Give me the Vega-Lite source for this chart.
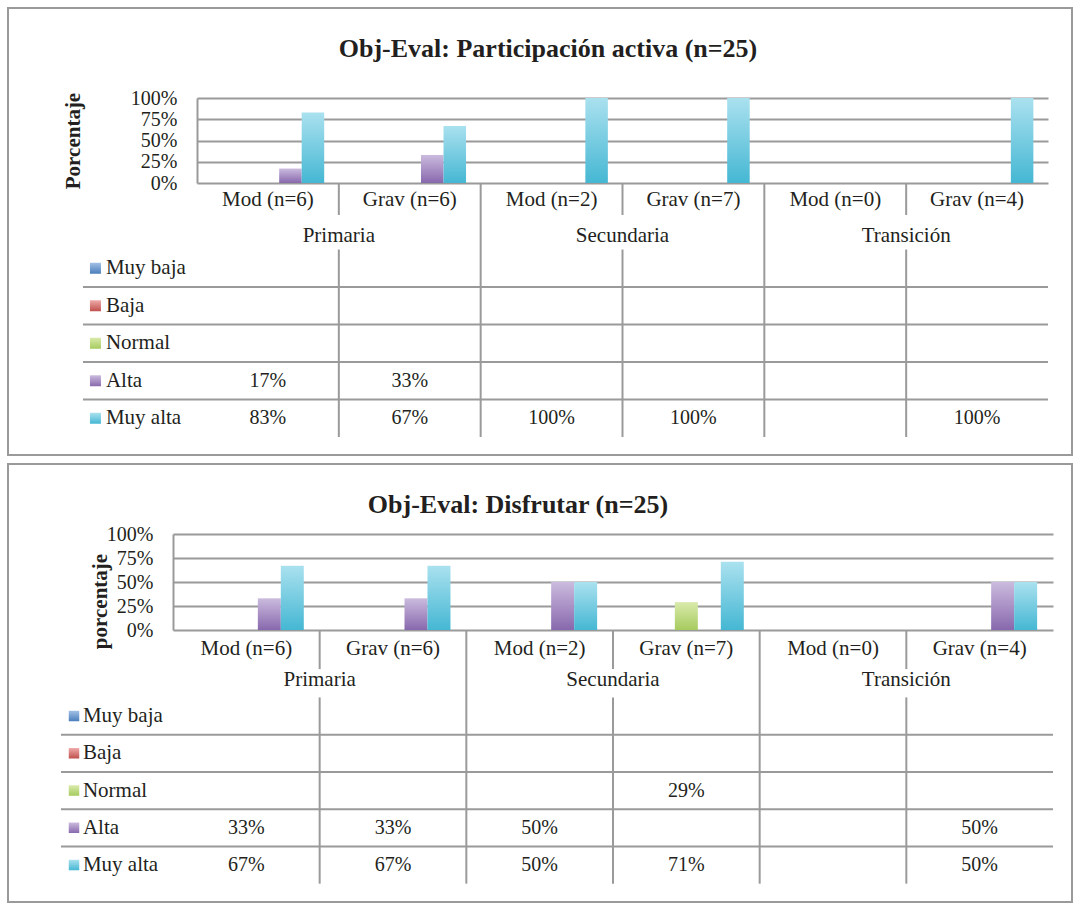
{
  "$schema": "https://vega.github.io/schema/vega-lite/v6.json",
  "padding": {"left": 7, "top": 7, "right": 0, "bottom": 0},
  "spacing": 7,
  "resolve": {"scale": {"xOffset": "independent"}},
  "config": {
    "view": {"stroke": "#9a9a9a", "strokeWidth": 2},
    "font": "Liberation Serif"
  },
  "datasets": {
    "cats": [
      {"cat": "Mod (n=6)", "group": "Primaria", "level": "Mod"},
      {"cat": "Grav (n=6)", "group": "Primaria", "level": "Grav"},
      {"cat": "Mod (n=2)", "group": "Secundaria", "level": "Mod"},
      {"cat": "Grav (n=7)", "group": "Secundaria", "level": "Grav"},
      {"cat": "Mod (n=0)", "group": "Transición", "level": "Mod"},
      {"cat": "Grav (n=4)", "group": "Transición", "level": "Grav"}
    ],
    "series": [
      {"series": "Muy baja"}, {"series": "Baja"}, {"series": "Normal"}, {"series": "Alta"}, {"series": "Muy alta"}
    ],
    "bars1": [
      {"cat": "Mod (n=6)", "series": "Alta", "value": 0.17},
      {"cat": "Mod (n=6)", "series": "Muy alta", "value": 0.83},
      {"cat": "Grav (n=6)", "series": "Alta", "value": 0.33},
      {"cat": "Grav (n=6)", "series": "Muy alta", "value": 0.67},
      {"cat": "Mod (n=2)", "series": "Muy alta", "value": 1},
      {"cat": "Grav (n=7)", "series": "Muy alta", "value": 1},
      {"cat": "Grav (n=4)", "series": "Muy alta", "value": 1}
    ],
    "bars2": [
      {"cat": "Mod (n=6)", "series": "Alta", "value": 0.33},
      {"cat": "Mod (n=6)", "series": "Muy alta", "value": 0.67},
      {"cat": "Grav (n=6)", "series": "Alta", "value": 0.33},
      {"cat": "Grav (n=6)", "series": "Muy alta", "value": 0.67},
      {"cat": "Mod (n=2)", "series": "Alta", "value": 0.5},
      {"cat": "Mod (n=2)", "series": "Muy alta", "value": 0.5},
      {"cat": "Grav (n=7)", "series": "Normal", "value": 0.29},
      {"cat": "Grav (n=7)", "series": "Muy alta", "value": 0.71},
      {"cat": "Grav (n=4)", "series": "Alta", "value": 0.5},
      {"cat": "Grav (n=4)", "series": "Muy alta", "value": 0.5}
    ]
  },
  "vconcat": [
    {
      "width": 1064,
      "height": 447,
      "title": {"text": "Obj-Eval: Participación activa (n=25)", "font": "Liberation Serif", "fontSize": 26, "fontWeight": "bold", "color": "#231f20", "anchor": "middle", "baseline": "middle", "offset": -67, "dx": 8},
      "resolve": {"scale": {"y": "independent"}, "axis": {"y": "independent"}},
      "layer": [
        {
          "data": {"name": "bars1"},
          "mark": {"type": "bar"},
          "encoding": {
            "x": {"field": "cat", "type": "nominal", "axis": null, "scale": {"type": "band", "domain": ["Mod (n=6)", "Grav (n=6)", "Mod (n=2)", "Grav (n=7)", "Mod (n=0)", "Grav (n=4)"], "range": [189, 1040], "paddingInner": 0, "paddingOuter": 0}},
            "xOffset": {"field": "series", "type": "nominal", "scale": {"type": "band", "domain": ["Muy baja", "Baja", "Normal", "Alta", "Muy alta"], "paddingInner": 0, "paddingOuter": 0.65}},
            "y": {"field": "value", "type": "quantitative", "scale": {"domain": [0, 1], "range": [175, 90], "nice": false, "zero": true},
              "axis": {"values": [0, 0.25, 0.5, 0.75, 1], "format": ".0%", "offset": -189, "grid": true, "gridColor": "#9a9a9a", "gridWidth": 2, "domainColor": "#9a9a9a", "domainWidth": 2, "ticks": false, "labelOverlap": false, "labelFont": "Liberation Serif", "labelFontSize": 20, "labelColor": "#231f20", "labelPadding": 20, "title": "Porcentaje", "titleFont": "Liberation Serif", "titleFontSize": 21, "titleFontWeight": "bold", "titleColor": "#231f20", "titleX": -118, "titleBaseline": "alphabetic"}},
            "color": {"condition": [
              {"test": "datum.series === 'Muy baja'", "value": {"gradient": "linear", "x1": 0, "y1": 0, "x2": 0, "y2": 1, "stops": [{"offset": 0, "color": "#a3c0e6"}, {"offset": 1, "color": "#4a7ebb"}]}},
              {"test": "datum.series === 'Baja'", "value": {"gradient": "linear", "x1": 0, "y1": 0, "x2": 0, "y2": 1, "stops": [{"offset": 0, "color": "#eeaaa8"}, {"offset": 1, "color": "#c0504d"}]}},
              {"test": "datum.series === 'Normal'", "value": {"gradient": "linear", "x1": 0, "y1": 0, "x2": 0, "y2": 1, "stops": [{"offset": 0, "color": "#d9eaab"}, {"offset": 1, "color": "#a6cb5e"}]}},
              {"test": "datum.series === 'Alta'", "value": {"gradient": "linear", "x1": 0, "y1": 0, "x2": 0, "y2": 1, "stops": [{"offset": 0, "color": "#cbbbde"}, {"offset": 1, "color": "#8868ad"}]}}
            ], "value": {"gradient": "linear", "x1": 0, "y1": 0, "x2": 0, "y2": 1, "stops": [{"offset": 0, "color": "#aae1ef"}, {"offset": 1, "color": "#45b7d3"}]}}
          }
        },
        {
          "data": {"name": "cats"},
          "transform": [{"filter": "datum.level === 'Grav'"}],
          "mark": {"type": "rule", "color": "#9a9a9a", "strokeWidth": 2},
          "encoding": {
            "x": {"field": "cat", "type": "nominal", "bandPosition": 0, "axis": null, "scale": {"type": "band", "domain": ["Mod (n=6)", "Grav (n=6)", "Mod (n=2)", "Grav (n=7)", "Mod (n=0)", "Grav (n=4)"], "range": [189, 1040], "paddingInner": 0, "paddingOuter": 0}},
            "y": {"datum": "sub", "type": "ordinal", "bandPosition": 0.227, "axis": null, "scale": {"type": "band", "domain": ["sub", "grp", "Muy baja", "Baja", "Normal", "Alta", "Muy alta"], "range": [166.5, 429], "paddingInner": 0, "paddingOuter": 0}},
            "y2": {"datum": "grp", "bandPosition": 0.08}
          }
        },
        {
          "data": {"name": "cats"},
          "transform": [{"filter": "datum.level === 'Grav'"}],
          "mark": {"type": "rule", "color": "#9a9a9a", "strokeWidth": 2},
          "encoding": {
            "x": {"field": "cat", "type": "nominal", "bandPosition": 0, "axis": null, "scale": {"type": "band", "domain": ["Mod (n=6)", "Grav (n=6)", "Mod (n=2)", "Grav (n=7)", "Mod (n=0)", "Grav (n=4)"], "range": [189, 1040], "paddingInner": 0, "paddingOuter": 0}},
            "y": {"datum": "Muy baja", "type": "ordinal", "bandPosition": 0, "axis": null, "scale": {"type": "band", "domain": ["sub", "grp", "Muy baja", "Baja", "Normal", "Alta", "Muy alta"], "range": [166.5, 429], "paddingInner": 0, "paddingOuter": 0}},
            "y2": {"datum": "Muy alta", "bandPosition": 1}
          }
        },
        {
          "data": {"name": "cats"},
          "transform": [{"filter": "datum.level === 'Mod' && datum.group !== 'Primaria'"}],
          "mark": {"type": "rule", "color": "#9a9a9a", "strokeWidth": 2},
          "encoding": {
            "x": {"field": "cat", "type": "nominal", "bandPosition": 0, "axis": null, "scale": {"type": "band", "domain": ["Mod (n=6)", "Grav (n=6)", "Mod (n=2)", "Grav (n=7)", "Mod (n=0)", "Grav (n=4)"], "range": [189, 1040], "paddingInner": 0, "paddingOuter": 0}},
            "y": {"datum": "sub", "type": "ordinal", "bandPosition": 0.227, "axis": null, "scale": {"type": "band", "domain": ["sub", "grp", "Muy baja", "Baja", "Normal", "Alta", "Muy alta"], "range": [166.5, 429], "paddingInner": 0, "paddingOuter": 0}},
            "y2": {"datum": "Muy alta", "bandPosition": 1}
          }
        },
        {
          "data": {"name": "series"},
          "transform": [{"filter": "datum.series !== 'Muy baja'"}],
          "mark": {"type": "rule", "color": "#9a9a9a", "strokeWidth": 2},
          "encoding": {
            "x": {"datum": "Mod (n=6)", "type": "nominal", "bandPosition": -0.804, "axis": null, "scale": {"type": "band", "domain": ["Mod (n=6)", "Grav (n=6)", "Mod (n=2)", "Grav (n=7)", "Mod (n=0)", "Grav (n=4)"], "range": [189, 1040], "paddingInner": 0, "paddingOuter": 0}},
            "x2": {"datum": "Grav (n=4)", "bandPosition": 1},
            "y": {"field": "series", "type": "ordinal", "bandPosition": 0, "axis": null, "scale": {"type": "band", "domain": ["sub", "grp", "Muy baja", "Baja", "Normal", "Alta", "Muy alta"], "range": [166.5, 429], "paddingInner": 0, "paddingOuter": 0}}
          }
        },
        {
          "data": {"name": "series"},
          "mark": {"type": "point", "shape": "square", "filled": true, "size": 121, "opacity": 1},
          "encoding": {
            "x": {"datum": "Mod (n=6)", "type": "nominal", "bandPosition": -0.716, "axis": null, "scale": {"type": "band", "domain": ["Mod (n=6)", "Grav (n=6)", "Mod (n=2)", "Grav (n=7)", "Mod (n=0)", "Grav (n=4)"], "range": [189, 1040], "paddingInner": 0, "paddingOuter": 0}},
            "y": {"field": "series", "type": "ordinal", "axis": null, "scale": {"type": "band", "domain": ["sub", "grp", "Muy baja", "Baja", "Normal", "Alta", "Muy alta"], "range": [166.5, 429], "paddingInner": 0, "paddingOuter": 0}},
            "color": {"condition": [
              {"test": "datum.series === 'Muy baja'", "value": {"gradient": "linear", "x1": 0, "y1": 0, "x2": 0, "y2": 1, "stops": [{"offset": 0, "color": "#a3c0e6"}, {"offset": 1, "color": "#4a7ebb"}]}},
              {"test": "datum.series === 'Baja'", "value": {"gradient": "linear", "x1": 0, "y1": 0, "x2": 0, "y2": 1, "stops": [{"offset": 0, "color": "#eeaaa8"}, {"offset": 1, "color": "#c0504d"}]}},
              {"test": "datum.series === 'Normal'", "value": {"gradient": "linear", "x1": 0, "y1": 0, "x2": 0, "y2": 1, "stops": [{"offset": 0, "color": "#d9eaab"}, {"offset": 1, "color": "#a6cb5e"}]}},
              {"test": "datum.series === 'Alta'", "value": {"gradient": "linear", "x1": 0, "y1": 0, "x2": 0, "y2": 1, "stops": [{"offset": 0, "color": "#cbbbde"}, {"offset": 1, "color": "#8868ad"}]}}
            ], "value": {"gradient": "linear", "x1": 0, "y1": 0, "x2": 0, "y2": 1, "stops": [{"offset": 0, "color": "#aae1ef"}, {"offset": 1, "color": "#45b7d3"}]}}
          }
        },
        {
          "data": {"name": "series"},
          "mark": {"type": "text", "font": "Liberation Serif", "fontSize": 21, "color": "#231f20", "align": "left", "baseline": "middle"},
          "encoding": {
            "x": {"datum": "Mod (n=6)", "type": "nominal", "bandPosition": -0.642, "axis": null, "scale": {"type": "band", "domain": ["Mod (n=6)", "Grav (n=6)", "Mod (n=2)", "Grav (n=7)", "Mod (n=0)", "Grav (n=4)"], "range": [189, 1040], "paddingInner": 0, "paddingOuter": 0}},
            "y": {"field": "series", "type": "ordinal", "axis": null, "scale": {"type": "band", "domain": ["sub", "grp", "Muy baja", "Baja", "Normal", "Alta", "Muy alta"], "range": [166.5, 429], "paddingInner": 0, "paddingOuter": 0}},
            "text": {"field": "series"}
          }
        },
        {
          "data": {"name": "bars1"},
          "mark": {"type": "text", "font": "Liberation Serif", "fontSize": 20, "color": "#231f20", "align": "center", "baseline": "middle"},
          "encoding": {
            "x": {"field": "cat", "type": "nominal", "axis": null, "scale": {"type": "band", "domain": ["Mod (n=6)", "Grav (n=6)", "Mod (n=2)", "Grav (n=7)", "Mod (n=0)", "Grav (n=4)"], "range": [189, 1040], "paddingInner": 0, "paddingOuter": 0}},
            "y": {"field": "series", "type": "ordinal", "axis": null, "scale": {"type": "band", "domain": ["sub", "grp", "Muy baja", "Baja", "Normal", "Alta", "Muy alta"], "range": [166.5, 429], "paddingInner": 0, "paddingOuter": 0}},
            "text": {"field": "value", "type": "quantitative", "format": ".0%"}
          }
        },
        {
          "data": {"name": "cats"},
          "mark": {"type": "text", "font": "Liberation Serif", "fontSize": 21, "color": "#231f20", "align": "center", "baseline": "middle", "dy": 7},
          "encoding": {
            "x": {"field": "cat", "type": "nominal", "axis": null, "scale": {"type": "band", "domain": ["Mod (n=6)", "Grav (n=6)", "Mod (n=2)", "Grav (n=7)", "Mod (n=0)", "Grav (n=4)"], "range": [189, 1040], "paddingInner": 0, "paddingOuter": 0}},
            "y": {"datum": "sub", "type": "ordinal", "axis": null, "scale": {"type": "band", "domain": ["sub", "grp", "Muy baja", "Baja", "Normal", "Alta", "Muy alta"], "range": [166.5, 429], "paddingInner": 0, "paddingOuter": 0}},
            "text": {"field": "cat"}
          }
        },
        {
          "data": {"name": "cats"},
          "transform": [{"filter": "datum.level === 'Grav'"}],
          "mark": {"type": "text", "font": "Liberation Serif", "fontSize": 21, "color": "#231f20", "align": "center", "baseline": "middle", "dy": 5},
          "encoding": {
            "x": {"field": "cat", "type": "nominal", "bandPosition": 0, "axis": null, "scale": {"type": "band", "domain": ["Mod (n=6)", "Grav (n=6)", "Mod (n=2)", "Grav (n=7)", "Mod (n=0)", "Grav (n=4)"], "range": [189, 1040], "paddingInner": 0, "paddingOuter": 0}},
            "y": {"datum": "grp", "type": "ordinal", "axis": null, "scale": {"type": "band", "domain": ["sub", "grp", "Muy baja", "Baja", "Normal", "Alta", "Muy alta"], "range": [166.5, 429], "paddingInner": 0, "paddingOuter": 0}},
            "text": {"field": "group"}
          }
        }
      ]
    },
    {
      "width": 1064,
      "height": 438,
      "title": {"text": "Obj-Eval: Disfrutar (n=25)", "font": "Liberation Serif", "fontSize": 26, "fontWeight": "bold", "color": "#231f20", "anchor": "middle", "baseline": "middle", "offset": -67, "dx": -22},
      "resolve": {"scale": {"y": "independent"}, "axis": {"y": "independent"}},
      "layer": [
        {
          "data": {"name": "bars2"},
          "mark": {"type": "bar"},
          "encoding": {
            "x": {"field": "cat", "type": "nominal", "axis": null, "scale": {"type": "band", "domain": ["Mod (n=6)", "Grav (n=6)", "Mod (n=2)", "Grav (n=7)", "Mod (n=0)", "Grav (n=4)"], "range": [165, 1045], "paddingInner": 0, "paddingOuter": 0}},
            "xOffset": {"field": "series", "type": "nominal", "scale": {"type": "band", "domain": ["Muy baja", "Baja", "Normal", "Alta", "Muy alta"], "paddingInner": 0, "paddingOuter": 0.69}},
            "y": {"field": "value", "type": "quantitative", "scale": {"domain": [0, 1], "range": [166, 70], "nice": false, "zero": true},
              "axis": {"values": [0, 0.25, 0.5, 0.75, 1], "format": ".0%", "offset": -165, "grid": true, "gridColor": "#9a9a9a", "gridWidth": 2, "domainColor": "#9a9a9a", "domainWidth": 2, "ticks": false, "labelOverlap": false, "labelFont": "Liberation Serif", "labelFontSize": 20, "labelColor": "#231f20", "labelPadding": 20, "title": "porcentaje", "titleFont": "Liberation Serif", "titleFontSize": 21, "titleFontWeight": "bold", "titleColor": "#231f20", "titleX": -67, "titleY": 137, "titleBaseline": "alphabetic"}},
            "color": {"condition": [
              {"test": "datum.series === 'Muy baja'", "value": {"gradient": "linear", "x1": 0, "y1": 0, "x2": 0, "y2": 1, "stops": [{"offset": 0, "color": "#a3c0e6"}, {"offset": 1, "color": "#4a7ebb"}]}},
              {"test": "datum.series === 'Baja'", "value": {"gradient": "linear", "x1": 0, "y1": 0, "x2": 0, "y2": 1, "stops": [{"offset": 0, "color": "#eeaaa8"}, {"offset": 1, "color": "#c0504d"}]}},
              {"test": "datum.series === 'Normal'", "value": {"gradient": "linear", "x1": 0, "y1": 0, "x2": 0, "y2": 1, "stops": [{"offset": 0, "color": "#d9eaab"}, {"offset": 1, "color": "#a6cb5e"}]}},
              {"test": "datum.series === 'Alta'", "value": {"gradient": "linear", "x1": 0, "y1": 0, "x2": 0, "y2": 1, "stops": [{"offset": 0, "color": "#cbbbde"}, {"offset": 1, "color": "#8868ad"}]}}
            ], "value": {"gradient": "linear", "x1": 0, "y1": 0, "x2": 0, "y2": 1, "stops": [{"offset": 0, "color": "#aae1ef"}, {"offset": 1, "color": "#45b7d3"}]}}
          }
        },
        {
          "data": {"name": "cats"},
          "transform": [{"filter": "datum.level === 'Grav'"}],
          "mark": {"type": "rule", "color": "#9a9a9a", "strokeWidth": 2},
          "encoding": {
            "x": {"field": "cat", "type": "nominal", "bandPosition": 0, "axis": null, "scale": {"type": "band", "domain": ["Mod (n=6)", "Grav (n=6)", "Mod (n=2)", "Grav (n=7)", "Mod (n=0)", "Grav (n=4)"], "range": [165, 1045], "paddingInner": 0, "paddingOuter": 0}},
            "y": {"datum": "sub", "type": "ordinal", "bandPosition": 0.19, "axis": null, "scale": {"type": "band", "domain": ["sub", "grp", "Muy baja", "Baja", "Normal", "Alta", "Muy alta"], "range": [158.9, 419.65], "paddingInner": 0, "paddingOuter": 0}},
            "y2": {"datum": "grp", "bandPosition": 0.24}
          }
        },
        {
          "data": {"name": "cats"},
          "transform": [{"filter": "datum.level === 'Grav'"}],
          "mark": {"type": "rule", "color": "#9a9a9a", "strokeWidth": 2},
          "encoding": {
            "x": {"field": "cat", "type": "nominal", "bandPosition": 0, "axis": null, "scale": {"type": "band", "domain": ["Mod (n=6)", "Grav (n=6)", "Mod (n=2)", "Grav (n=7)", "Mod (n=0)", "Grav (n=4)"], "range": [165, 1045], "paddingInner": 0, "paddingOuter": 0}},
            "y": {"datum": "Muy baja", "type": "ordinal", "bandPosition": 0, "axis": null, "scale": {"type": "band", "domain": ["sub", "grp", "Muy baja", "Baja", "Normal", "Alta", "Muy alta"], "range": [158.9, 419.65], "paddingInner": 0, "paddingOuter": 0}},
            "y2": {"datum": "Muy alta", "bandPosition": 1}
          }
        },
        {
          "data": {"name": "cats"},
          "transform": [{"filter": "datum.level === 'Mod' && datum.group !== 'Primaria'"}],
          "mark": {"type": "rule", "color": "#9a9a9a", "strokeWidth": 2},
          "encoding": {
            "x": {"field": "cat", "type": "nominal", "bandPosition": 0, "axis": null, "scale": {"type": "band", "domain": ["Mod (n=6)", "Grav (n=6)", "Mod (n=2)", "Grav (n=7)", "Mod (n=0)", "Grav (n=4)"], "range": [165, 1045], "paddingInner": 0, "paddingOuter": 0}},
            "y": {"datum": "sub", "type": "ordinal", "bandPosition": 0.19, "axis": null, "scale": {"type": "band", "domain": ["sub", "grp", "Muy baja", "Baja", "Normal", "Alta", "Muy alta"], "range": [158.9, 419.65], "paddingInner": 0, "paddingOuter": 0}},
            "y2": {"datum": "Muy alta", "bandPosition": 1}
          }
        },
        {
          "data": {"name": "series"},
          "transform": [{"filter": "datum.series !== 'Muy baja'"}],
          "mark": {"type": "rule", "color": "#9a9a9a", "strokeWidth": 2},
          "encoding": {
            "x": {"datum": "Mod (n=6)", "type": "nominal", "bandPosition": -0.764, "axis": null, "scale": {"type": "band", "domain": ["Mod (n=6)", "Grav (n=6)", "Mod (n=2)", "Grav (n=7)", "Mod (n=0)", "Grav (n=4)"], "range": [165, 1045], "paddingInner": 0, "paddingOuter": 0}},
            "x2": {"datum": "Grav (n=4)", "bandPosition": 1},
            "y": {"field": "series", "type": "ordinal", "bandPosition": 0, "axis": null, "scale": {"type": "band", "domain": ["sub", "grp", "Muy baja", "Baja", "Normal", "Alta", "Muy alta"], "range": [158.9, 419.65], "paddingInner": 0, "paddingOuter": 0}}
          }
        },
        {
          "data": {"name": "series"},
          "mark": {"type": "point", "shape": "square", "filled": true, "size": 110, "opacity": 1},
          "encoding": {
            "x": {"datum": "Mod (n=6)", "type": "nominal", "bandPosition": -0.675, "axis": null, "scale": {"type": "band", "domain": ["Mod (n=6)", "Grav (n=6)", "Mod (n=2)", "Grav (n=7)", "Mod (n=0)", "Grav (n=4)"], "range": [165, 1045], "paddingInner": 0, "paddingOuter": 0}},
            "y": {"field": "series", "type": "ordinal", "axis": null, "scale": {"type": "band", "domain": ["sub", "grp", "Muy baja", "Baja", "Normal", "Alta", "Muy alta"], "range": [158.9, 419.65], "paddingInner": 0, "paddingOuter": 0}},
            "color": {"condition": [
              {"test": "datum.series === 'Muy baja'", "value": {"gradient": "linear", "x1": 0, "y1": 0, "x2": 0, "y2": 1, "stops": [{"offset": 0, "color": "#a3c0e6"}, {"offset": 1, "color": "#4a7ebb"}]}},
              {"test": "datum.series === 'Baja'", "value": {"gradient": "linear", "x1": 0, "y1": 0, "x2": 0, "y2": 1, "stops": [{"offset": 0, "color": "#eeaaa8"}, {"offset": 1, "color": "#c0504d"}]}},
              {"test": "datum.series === 'Normal'", "value": {"gradient": "linear", "x1": 0, "y1": 0, "x2": 0, "y2": 1, "stops": [{"offset": 0, "color": "#d9eaab"}, {"offset": 1, "color": "#a6cb5e"}]}},
              {"test": "datum.series === 'Alta'", "value": {"gradient": "linear", "x1": 0, "y1": 0, "x2": 0, "y2": 1, "stops": [{"offset": 0, "color": "#cbbbde"}, {"offset": 1, "color": "#8868ad"}]}}
            ], "value": {"gradient": "linear", "x1": 0, "y1": 0, "x2": 0, "y2": 1, "stops": [{"offset": 0, "color": "#aae1ef"}, {"offset": 1, "color": "#45b7d3"}]}}
          }
        },
        {
          "data": {"name": "series"},
          "mark": {"type": "text", "font": "Liberation Serif", "fontSize": 21, "color": "#231f20", "align": "left", "baseline": "middle"},
          "encoding": {
            "x": {"datum": "Mod (n=6)", "type": "nominal", "bandPosition": -0.614, "axis": null, "scale": {"type": "band", "domain": ["Mod (n=6)", "Grav (n=6)", "Mod (n=2)", "Grav (n=7)", "Mod (n=0)", "Grav (n=4)"], "range": [165, 1045], "paddingInner": 0, "paddingOuter": 0}},
            "y": {"field": "series", "type": "ordinal", "axis": null, "scale": {"type": "band", "domain": ["sub", "grp", "Muy baja", "Baja", "Normal", "Alta", "Muy alta"], "range": [158.9, 419.65], "paddingInner": 0, "paddingOuter": 0}},
            "text": {"field": "series"}
          }
        },
        {
          "data": {"name": "bars2"},
          "mark": {"type": "text", "font": "Liberation Serif", "fontSize": 20, "color": "#231f20", "align": "center", "baseline": "middle"},
          "encoding": {
            "x": {"field": "cat", "type": "nominal", "axis": null, "scale": {"type": "band", "domain": ["Mod (n=6)", "Grav (n=6)", "Mod (n=2)", "Grav (n=7)", "Mod (n=0)", "Grav (n=4)"], "range": [165, 1045], "paddingInner": 0, "paddingOuter": 0}},
            "y": {"field": "series", "type": "ordinal", "axis": null, "scale": {"type": "band", "domain": ["sub", "grp", "Muy baja", "Baja", "Normal", "Alta", "Muy alta"], "range": [158.9, 419.65], "paddingInner": 0, "paddingOuter": 0}},
            "text": {"field": "value", "type": "quantitative", "format": ".0%"}
          }
        },
        {
          "data": {"name": "cats"},
          "mark": {"type": "text", "font": "Liberation Serif", "fontSize": 21, "color": "#231f20", "align": "center", "baseline": "middle", "dy": 7},
          "encoding": {
            "x": {"field": "cat", "type": "nominal", "axis": null, "scale": {"type": "band", "domain": ["Mod (n=6)", "Grav (n=6)", "Mod (n=2)", "Grav (n=7)", "Mod (n=0)", "Grav (n=4)"], "range": [165, 1045], "paddingInner": 0, "paddingOuter": 0}},
            "y": {"datum": "sub", "type": "ordinal", "axis": null, "scale": {"type": "band", "domain": ["sub", "grp", "Muy baja", "Baja", "Normal", "Alta", "Muy alta"], "range": [158.9, 419.65], "paddingInner": 0, "paddingOuter": 0}},
            "text": {"field": "cat"}
          }
        },
        {
          "data": {"name": "cats"},
          "transform": [{"filter": "datum.level === 'Grav'"}],
          "mark": {"type": "text", "font": "Liberation Serif", "fontSize": 21, "color": "#231f20", "align": "center", "baseline": "middle", "dy": 1},
          "encoding": {
            "x": {"field": "cat", "type": "nominal", "bandPosition": 0, "axis": null, "scale": {"type": "band", "domain": ["Mod (n=6)", "Grav (n=6)", "Mod (n=2)", "Grav (n=7)", "Mod (n=0)", "Grav (n=4)"], "range": [165, 1045], "paddingInner": 0, "paddingOuter": 0}},
            "y": {"datum": "grp", "type": "ordinal", "axis": null, "scale": {"type": "band", "domain": ["sub", "grp", "Muy baja", "Baja", "Normal", "Alta", "Muy alta"], "range": [158.9, 419.65], "paddingInner": 0, "paddingOuter": 0}},
            "text": {"field": "group"}
          }
        }
      ]
    }
  ]
}
